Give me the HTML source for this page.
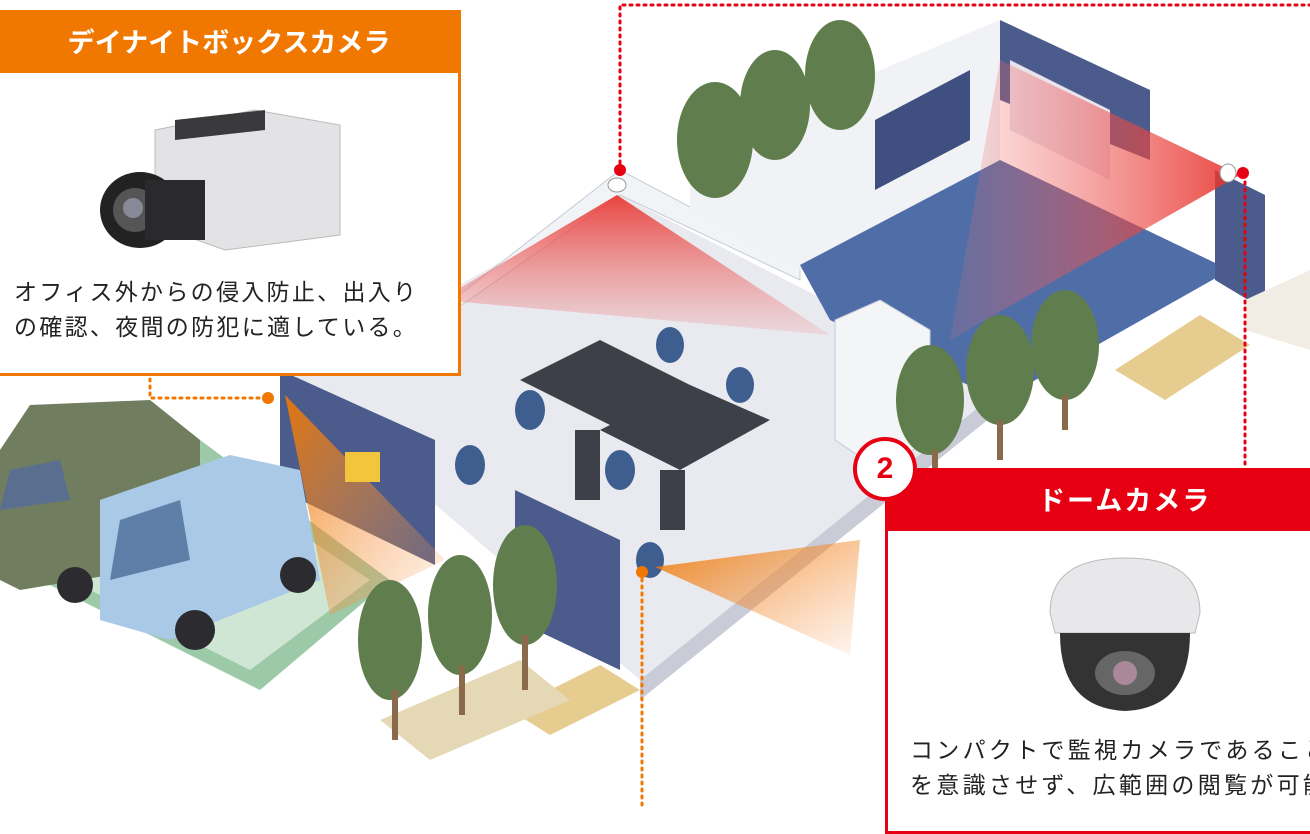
<!DOCTYPE html>
<html><head><meta charset="utf-8"><style>
html,body{margin:0;padding:0;background:#fff;}
body{width:1310px;height:810px;overflow:hidden;position:relative;font-family:"Liberation Sans","Noto Sans CJK JP",sans-serif;}
.box1{position:absolute;left:-3px;top:10px;width:458px;height:360px;border:3px solid #f07800;background:#fff;}
.h1{position:absolute;left:0;top:0;width:458px;height:60px;background:#f07800;color:#fff;font-size:27px;font-weight:bold;line-height:60px;text-align:center;}
.t1{position:absolute;left:14px;top:262px;font-size:23px;letter-spacing:2.3px;line-height:35px;color:#222;white-space:nowrap;}
.box2{position:absolute;left:885px;top:468px;width:440px;height:360px;border:3px solid #e60012;background:#fff;}
.h2{position:absolute;left:0;top:0;width:440px;height:60px;background:#e60012;color:#fff;font-size:27px;font-weight:bold;line-height:60px;padding-left:150px;box-sizing:border-box;letter-spacing:2px;}
.t2{position:absolute;left:22px;top:262px;font-size:23px;letter-spacing:3.3px;line-height:35px;color:#222;white-space:nowrap;}
.num{position:absolute;left:853px;top:437px;width:56px;height:56px;border-radius:50%;background:#fff;border:4px solid #e60012;color:#e60012;font-size:30px;font-weight:bold;text-align:center;line-height:56px;}
</style></head><body>
<svg width="1310" height="810" style="position:absolute;left:0;top:0">
<defs>
<linearGradient id="rg" x1="0" y1="0" x2="0" y2="1"><stop offset="0" stop-color="#e8322b" stop-opacity=".9"/><stop offset="1" stop-color="#f07070" stop-opacity=".15"/></linearGradient>
<linearGradient id="rg2" x1="1" y1="0" x2="0" y2="0"><stop offset="0" stop-color="#e8322b" stop-opacity=".9"/><stop offset="1" stop-color="#f07070" stop-opacity=".15"/></linearGradient>
<linearGradient id="og" x1="0" y1="0" x2="1" y2="1"><stop offset="0" stop-color="#f07800" stop-opacity=".9"/><stop offset="1" stop-color="#f7a060" stop-opacity=".1"/></linearGradient>
</defs>
<polygon points="0,450 200,440 390,580 260,690 0,560" fill="#9cc9a8"/>
<polygon points="0,470 190,460 370,580 250,670 0,545" fill="#cfe6d4"/>
<polygon points="290,380 620,195 1000,390 640,680" fill="#e9eaf0"/>
<polygon points="640,680 1000,390 1000,410 640,700" fill="#c9cbd6"/>
<polygon points="440,310 620,170 800,265 800,280 620,195 440,320" fill="#f2f3f6" stroke="#c6cbd8"/>
<polygon points="690,150 1000,20 1000,250 800,270 690,210" fill="#f1f2f5"/>
<polygon points="1000,20 1150,90 1150,160 1000,100" fill="#4a5b8c"/>
<polygon points="800,265 1000,160 1230,270 1000,400 830,320" fill="#4f6ea8"/>
<polygon points="1215,170 1265,195 1265,310 1215,280" fill="#4a5b8c"/>
<polygon points="875,120 970,70 970,140 875,190" fill="#3e4f80"/>
<polygon points="1010,60 1110,110 1110,180 1010,130" fill="#e9e4ec"/>
<ellipse cx="715" cy="140" rx="38" ry="58" fill="#5f7d4d"/>
<ellipse cx="775" cy="105" rx="35" ry="55" fill="#5f7d4d"/>
<ellipse cx="840" cy="75" rx="35" ry="55" fill="#5f7d4d"/>
<polygon points="617,195 440,300 830,335" fill="url(#rg)"/>
<polygon points="1240,175 1000,60 950,340" fill="url(#rg2)"/>
<polygon points="520,380 600,340 700,390 620,430" fill="#3d4048"/>
<polygon points="600,430 690,385 770,420 680,470" fill="#3d4048"/>
<rect x="575" y="430" width="25" height="70" fill="#3d4048"/>
<rect x="660" y="470" width="25" height="60" fill="#3d4048"/>
<g fill="#3f5e90"><ellipse cx="530" cy="410" rx="15" ry="20"/><ellipse cx="470" cy="465" rx="15" ry="20"/><ellipse cx="620" cy="470" rx="15" ry="20"/><ellipse cx="740" cy="385" rx="14" ry="18"/><ellipse cx="670" cy="345" rx="14" ry="18"/><ellipse cx="650" cy="560" rx="14" ry="18"/></g>
<polygon points="835,320 880,300 930,330 930,440 880,470 835,440" fill="#f4f5f7" stroke="#c6cbd8"/>
<polygon points="280,370 435,440 435,565 280,490" fill="#4a5b8c"/>
<polygon points="515,490 620,540 620,670 515,620" fill="#4a5b8c"/>
<polygon points="285,395 330,615 445,560" fill="url(#og)"/>
<polygon points="655,567 860,540 850,655" fill="url(#og)"/>
<rect x="345" y="452" width="35" height="30" fill="#f3c53d"/>
<polygon points="0,450 30,405 150,400 200,440 200,560 20,590 0,580" fill="#707d5f"/>
<polygon points="10,470 60,460 70,500 0,510" fill="#5a6f90"/>
<polygon points="100,500 230,455 300,470 320,580 170,640 100,620" fill="#a9c9e6"/>
<polygon points="120,520 180,500 190,560 110,580" fill="#5e7fa8"/>
<circle cx="75" cy="585" r="18" fill="#2c2c30"/><circle cx="195" cy="630" r="20" fill="#2c2c30"/><circle cx="298" cy="575" r="18" fill="#2c2c30"/>
<polygon points="1115,370 1200,315 1250,345 1165,400" fill="#e7cc90"/>
<polygon points="510,710 600,665 640,690 550,735" fill="#e7cc90"/>
<polygon points="380,720 520,660 570,700 430,760" fill="#e5d8b4"/>
<polygon points="1245,300 1310,270 1310,350 1245,330" fill="#f1ece4"/>
<g fill="#5f7d4d">
<ellipse cx="390" cy="640" rx="32" ry="60"/><ellipse cx="460" cy="615" rx="32" ry="60"/><ellipse cx="525" cy="585" rx="32" ry="60"/>
<ellipse cx="930" cy="400" rx="34" ry="55"/><ellipse cx="1000" cy="370" rx="34" ry="55"/><ellipse cx="1065" cy="345" rx="34" ry="55"/>
</g>
<g stroke="#8a6a4a" stroke-width="6"><line x1="395" y1="690" x2="395" y2="740"/><line x1="462" y1="665" x2="462" y2="715"/><line x1="525" y1="635" x2="525" y2="690"/><line x1="935" y1="450" x2="935" y2="470"/><line x1="1000" y1="420" x2="1000" y2="460"/><line x1="1065" y1="395" x2="1065" y2="430"/></g>
<g fill="none" stroke-dasharray="2,5" stroke-width="3" stroke-linecap="round">
<polyline points="620,170 620,5 1310,5" stroke="#e60012"/>
<line x1="1245" y1="175" x2="1245" y2="468" stroke="#e60012"/>
<polyline points="150,372 150,398 268,398" stroke="#f07800"/>
<line x1="642" y1="572" x2="642" y2="810" stroke="#f07800"/>
</g>
<circle cx="620" cy="170" r="6" fill="#e60012"/><circle cx="1243" cy="173" r="6" fill="#e60012"/>
<circle cx="268" cy="398" r="6" fill="#f07800"/><circle cx="642" cy="572" r="6" fill="#f07800"/>
<ellipse cx="617" cy="185" rx="9" ry="7" fill="#fff" stroke="#999"/><ellipse cx="1228" cy="173" rx="8" ry="9" fill="#fff" stroke="#999"/>
</svg>
<div class="box1"><div class="h1">デイナイトボックスカメラ</div>
<svg width="260" height="150" style="position:absolute;left:95px;top:92px">
<polygon points="60,25 160,5 245,20 245,130 130,145 60,120" fill="#e3e3e5" stroke="#bbb"/>
<polygon points="80,15 170,5 170,25 80,35" fill="#3a3a3c"/>
<ellipse cx="45" cy="105" rx="40" ry="38" fill="#222"/><ellipse cx="40" cy="105" rx="22" ry="22" fill="#555"/><ellipse cx="38" cy="103" rx="10" ry="10" fill="#889"/>
<rect x="50" y="75" width="60" height="60" fill="#2a2a2c"/>
</svg>
<div class="t1">オフィス外からの侵入防止、出入り<br>の確認、夜間の防犯に適している。</div></div>
<div class="box2"><div class="h2">ドームカメラ</div>
<svg width="160" height="165" style="position:absolute;left:157px;top:82px">
<path d="M5,60 Q5,5 80,5 Q155,5 155,60 L150,80 L10,80Z" fill="#e8e8ea" stroke="#bbb"/>
<path d="M15,80 L145,80 Q145,155 80,158 Q15,155 15,80Z" fill="#333"/>
<ellipse cx="80" cy="120" rx="30" ry="22" fill="#666"/><circle cx="80" cy="120" r="12" fill="#a89"/>
</svg>
<div class="t2">コンパクトで監視カメラであること<br>を意識させず、広範囲の閲覧が可能</div></div>
<div class="num">2</div>
</body></html>
